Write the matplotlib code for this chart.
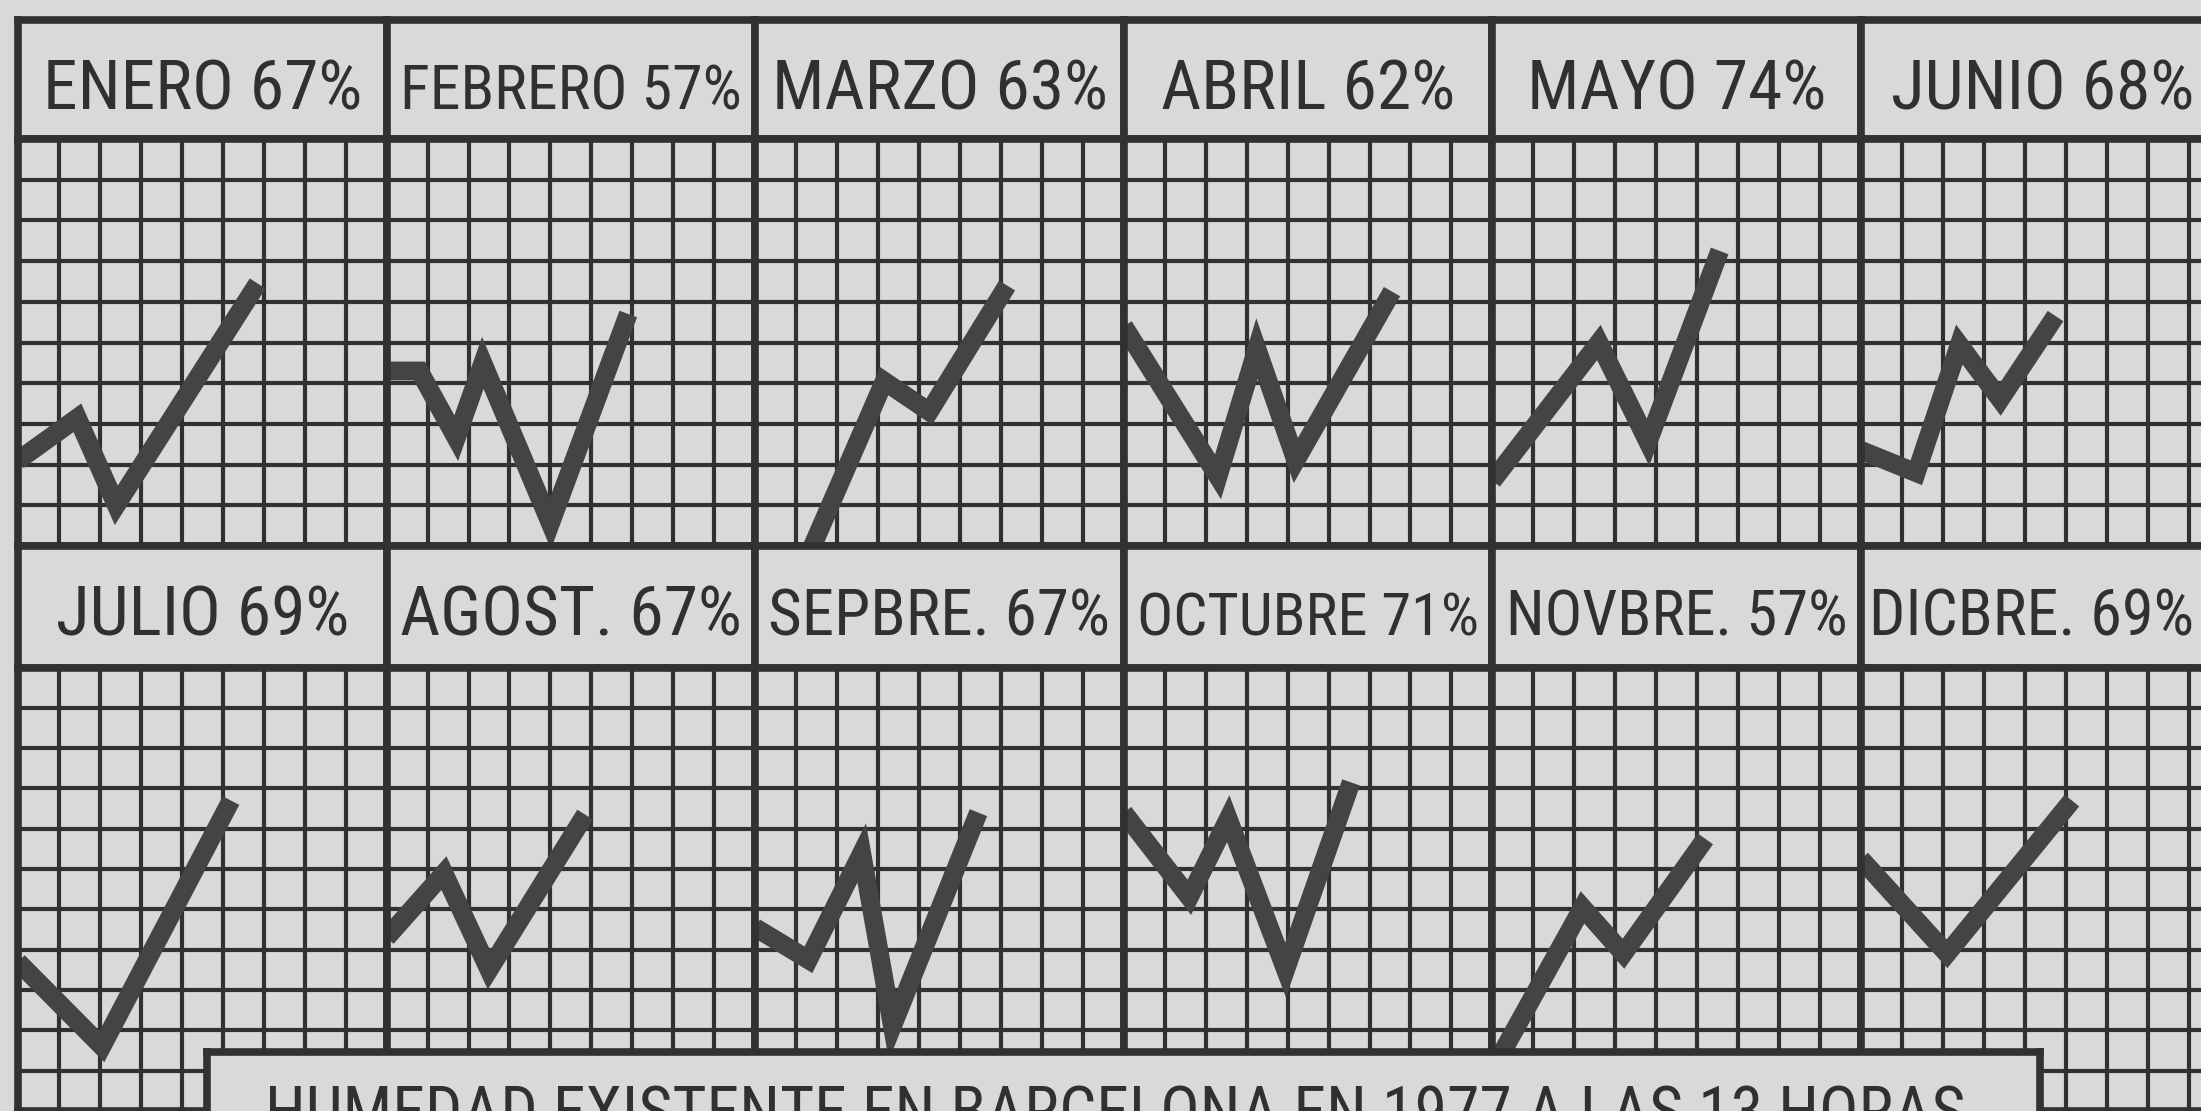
import matplotlib
matplotlib.use("Agg")
import matplotlib.pyplot as plt
import matplotlib.font_manager as fm

# ---------------- data ----------------
months = ["ENERO", "FEBRERO", "MARZO", "ABRIL", "MAYO", "JUNIO",
          "JULIO", "AGOST.", "SEPBRE.", "OCTUBRE", "NOVBRE.", "DICBRE."]
humidity = [67, 57, 63, 62, 74, 68, 69, 67, 67, 71, 57, 69]

# zig-zag lines drawn in every panel, in grid cells (x: 0..9, y: rows above 10th line)
zig_x = [
    [0.0, 1.45, 2.4, 5.85],
    [0.0, 0.8, 1.7, 2.35, 4.0, 5.9],
    [1.4, 3.15, 4.25, 6.15],
    [0.0, 2.3, 3.25, 4.2, 6.55],
    [0.0, 2.6, 3.8, 5.55],
    [0.0, 1.35, 2.4, 3.4, 4.75],
    [0.0, 2.05, 5.2],
    [0.0, 1.4, 2.5, 4.85],
    [0.0, 1.3, 2.6, 3.35, 5.45],
    [0.0, 1.6, 2.55, 3.95, 5.55],
    [0.1, 2.2, 3.2, 5.2],
    [0.0, 2.1, 5.15],
]
zig_y = [
    [2.1, 3.15, 1.0, 6.45],
    [4.3, 4.3, 2.65, 4.5, 0.55, 5.7],
    [0.0, 4.05, 3.3, 6.4],
    [5.4, 1.7, 4.85, 2.1, 6.25],
    [1.6, 5.0, 2.55, 7.25],
    [2.35, 1.8, 4.95, 3.6, 5.65],
    [2.7, 0.6, 6.7],
    [3.3, 4.9, 2.5, 6.35],
    [3.55, 2.75, 5.4, 1.1, 6.4],
    [6.4, 4.3, 6.25, 2.5, 7.15],
    [0.2, 4.05, 2.9, 5.75],
    [5.25, 2.9, 6.7],
]
title = "HUMEDAD EXISTENTE EN BARCELONA EN 1977 A LAS 13 HORAS"

# ---------------- style ----------------
PAPER = "#d9d9d7"
GRID = "#313131"
INK = "#444444"
TEXT = "#303030"
LW_GRID = 3.0
LW_BORDER = 5.5
LW_ZIG = 13.5


def pick_font():
    entries = fm.fontManager.ttflist
    names = {e.name for e in entries}
    prefs = ["Liberation Sans Narrow", "Arial Narrow", "Nimbus Sans Narrow",
             "Roboto Condensed", "Noto Sans Condensed", "Open Sans Condensed",
             "Noto Sans SemiCondensed", "DejaVu Sans Condensed"]
    for p in prefs:
        if p in names:
            return dict(family=p)
    for e in entries:
        if (e.stretch in ("condensed", "semi-condensed", "extra-condensed")
                and e.style == "normal" and e.weight in (400, "normal", "regular")
                and "Mono" not in e.name and "Serif" not in e.name):
            return dict(family=e.name, stretch=e.stretch)
    return dict(family="Roboto")


FONTKW = pick_font()

W, H = 2201, 1111
fig = plt.figure(figsize=(W / 100, H / 100), dpi=100, facecolor=PAPER)
renderer = fig.canvas.get_renderer()


def px_axes(x0, y0, x1, y1, **kw):
    return fig.add_axes([x0 / W, 1 - y1 / H, (x1 - x0) / W, (y1 - y0) / H], **kw)


def style_spines(ax):
    for s in ax.spines.values():
        s.set_linewidth(LW_BORDER)
        s.set_color(GRID)


COL_X0, COL_W = 18, 368.6
rows = [
    dict(hy0=20, hy1=139, gy0=139, gy1=546, ymin=0, base=109),
    dict(hy0=546, hy1=667.5, gy0=667.5, gy1=1111, ymin=-1, base=635),
]
MAX_LABEL_W = 342
HEADER_FS = 50

for i, (m, h) in enumerate(zip(months, humidity)):
    r, c = divmod(i, 6)
    R = rows[r]
    x0 = COL_X0 + c * COL_W
    x1 = x0 + COL_W

    # header
    hax = px_axes(x0, R["hy0"], x1, R["hy1"], facecolor=PAPER)
    hax.set_xlim(x0, x1)
    hax.set_ylim(R["hy1"], R["hy0"])
    hax.set_xticks([])
    hax.set_yticks([])
    style_spines(hax)
    vis_left, vis_right = x0 + 8, min(x1, W) - 7
    max_w = min(MAX_LABEL_W, vis_right - vis_left)
    t = hax.text((x0 + x1) / 2, R["base"], f"{m} {h}%", ha="center", va="baseline",
                 fontsize=HEADER_FS, color=TEXT, clip_on=False, **FONTKW)
    w = t.get_window_extent(renderer=renderer).width
    if w > max_w:
        t.set_fontsize(HEADER_FS * max_w / w)
        w = max_w
    cx = min((x0 + x1) / 2, vis_right - w / 2)
    t.set_x(cx)

    # grid panel
    gax = px_axes(x0, R["gy0"], x1, R["gy1"], facecolor=PAPER)
    gax.set_xlim(0, 9)
    gax.set_ylim(R["ymin"], 10)
    gax.set_xticks(range(1, 9))
    gax.set_yticks(range(R["ymin"] + 1, 10))
    gax.tick_params(length=0, labelleft=False, labelbottom=False)
    gax.set_axisbelow(True)
    gax.grid(True, color=GRID, lw=LW_GRID)
    style_spines(gax)
    gax.plot(zig_x[i], zig_y[i], color=INK, lw=LW_ZIG,
             solid_joinstyle="miter", solid_capstyle="butt", zorder=2)

# title box
tax = px_axes(207, 1052, 2040, 1250, facecolor=PAPER, zorder=5)
tax.set_xlim(207, 2040)
tax.set_ylim(1250, 1052)
tax.set_xticks([])
tax.set_yticks([])
style_spines(tax)
tt = tax.text(265, 1085, title, ha="left", va="top", fontsize=47,
              color=TEXT, **FONTKW)
tw = tt.get_window_extent(renderer=renderer).width
tt.set_fontsize(47 * 1699 / tw)

fig.savefig("out.png", dpi=100, facecolor=PAPER)
